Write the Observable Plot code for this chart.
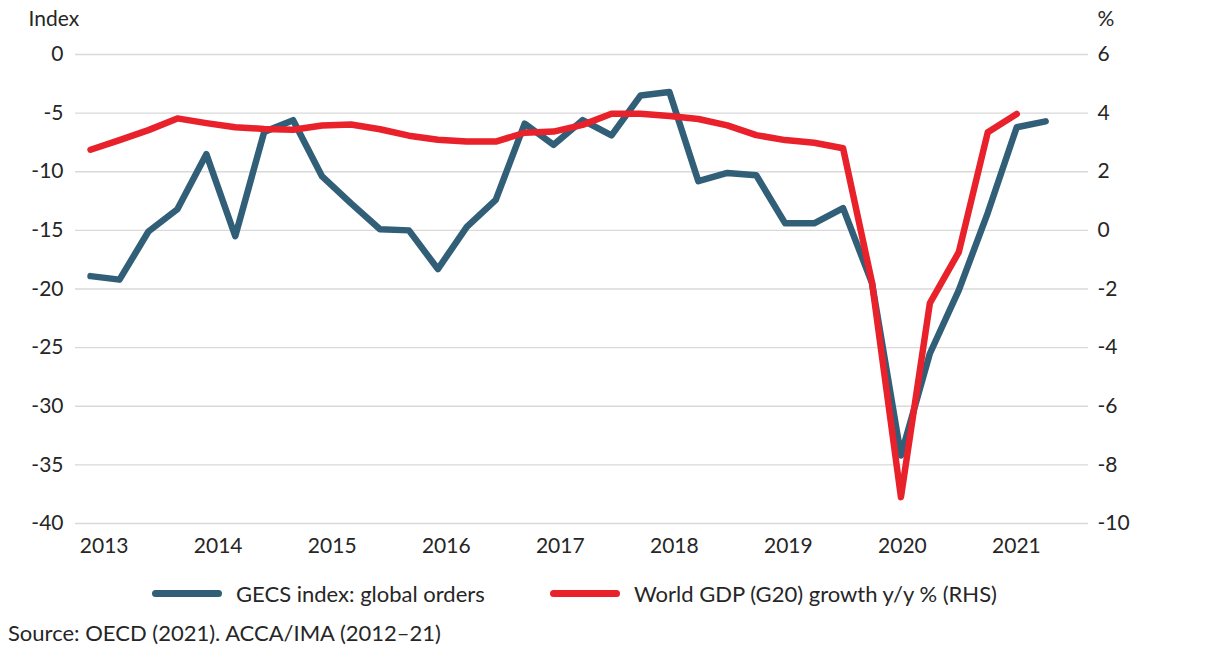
<!DOCTYPE html>
<html>
<head>
<meta charset="utf-8">
<script src="https://cdn.jsdelivr.net/npm/d3@7"></script>
<script src="https://cdn.jsdelivr.net/npm/@observablehq/plot@0.6"></script>
<style>
  html, body { margin: 0; padding: 0; background: #fff; }
  body { width: 1218px; height: 668px; font-family: Lato, "Open Sans", sans-serif; color: #262626; position: relative; overflow: hidden; }
  #chart svg { display: block; }
  .legend { position: absolute; top: 579px; left: 0; width: 1218px; height: 28px; font-size: 22px; }
  .legend .item { position: absolute; top: 0; display: flex; align-items: center; height: 28px; }
  .legend .swatch { width: 70px; height: 7px; border-radius: 4px; margin-right: 14px; }
  .source { position: absolute; left: 8px; top: 619px; font-size: 22px; }
</style>
</head>
<body>
<div id="chart"></div>
<div class="legend">
  <div class="item" style="left:152px"><span class="swatch" style="background:#325f78"></span><span>GECS index: global orders</span></div>
  <div class="item" style="left:550px"><span class="swatch" style="background:#e8212b"></span><span>World GDP (G20) growth y/y % (RHS)</span></div>
</div>
<div class="source">Source: OECD (2021). ACCA/IMA (2012–21)</div>
<script>
// Quarterly series (Q1 2013 onwards)
const gecs = [-18.9,-19.2,-15.1,-13.2,-8.5,-15.5,-6.6,-5.6,-10.4,-12.7,-14.9,-15.0,-18.3,-14.7,-12.4,-5.9,-7.7,-5.6,-6.9,-3.5,-3.2,-10.8,-10.1,-10.3,-14.4,-14.4,-13.1,-19.5,-34.2,-25.5,-20.1,-13.5,-6.2,-5.7];
const gdp = [2.75,3.08,3.42,3.82,3.66,3.52,3.46,3.43,3.58,3.61,3.45,3.23,3.09,3.03,3.03,3.33,3.37,3.6,3.98,3.98,3.9,3.8,3.58,3.25,3.08,2.99,2.8,-1.78,-9.1,-2.48,-0.74,3.35,3.97];
const years = [2013,2014,2015,2016,2017,2018,2019,2020,2021];
const leftTicks = [0,-5,-10,-15,-20,-25,-30,-35,-40];

// right axis: % = 6 + 0.4 * index
const toLeft = v => (v - 6) / 0.4;
const toRight = v => 6 + 0.4 * v;

const gecsData = gecs.map((v, i) => ({i, v}));
const gdpData = gdp.map((v, i) => ({i, v: toLeft(v)}));
const yearPos = years.map((y, k) => 0.47 + 3.94 * k);

const W = 1218, H = 570;
const chart = Plot.plot({
  width: W, height: H,
  marginLeft: 75, marginRight: 130, marginTop: 54, marginBottom: 47,
  style: {fontFamily: "Lato, 'Open Sans', sans-serif", fontSize: "21px", color: "#262626", background: "#fff"},
  x: {type: "linear", domain: [-0.52, 34.48], axis: null},
  y: {domain: [-40, 0], axis: null},
  marks: [
    Plot.gridY(leftTicks, {stroke: "#d9d9d9", strokeOpacity: 1, strokeWidth: 1.3}),
    Plot.axisY(leftTicks, {anchor: "left", tickSize: 0, tickPadding: 12, tickFormat: d => String(d), label: null, fill: "#262626"}),
    Plot.axisY(leftTicks, {anchor: "right", tickSize: 0, tickPadding: 9, tickFormat: d => String(+toRight(d).toFixed(1)), label: null, fill: "#262626"}),
    Plot.axisX(yearPos, {anchor: "bottom", tickSize: 0, tickPadding: 15, tickFormat: (d, k) => String(years[k]), label: null, fill: "#262626"}),
    Plot.line(gecsData, {x: "i", y: "v", stroke: "#325f78", strokeWidth: 6.5, strokeLinejoin: "round", strokeLinecap: "round"}),
    Plot.line(gdpData, {x: "i", y: "v", stroke: "#e8212b", strokeWidth: 6.5, strokeLinejoin: "round", strokeLinecap: "round"}),
    Plot.text(["Index"], {frameAnchor: "top-left", dx: -47, dy: -43, text: d => d, textAnchor: "start", fill: "#262626", fontSize: 21}),
    Plot.text(["%"], {frameAnchor: "top-right", dx: 9, dy: -43, text: d => d, textAnchor: "start", fill: "#262626", fontSize: 21})
  ]
});
document.getElementById("chart").appendChild(chart);
</script>
</body>
</html>
